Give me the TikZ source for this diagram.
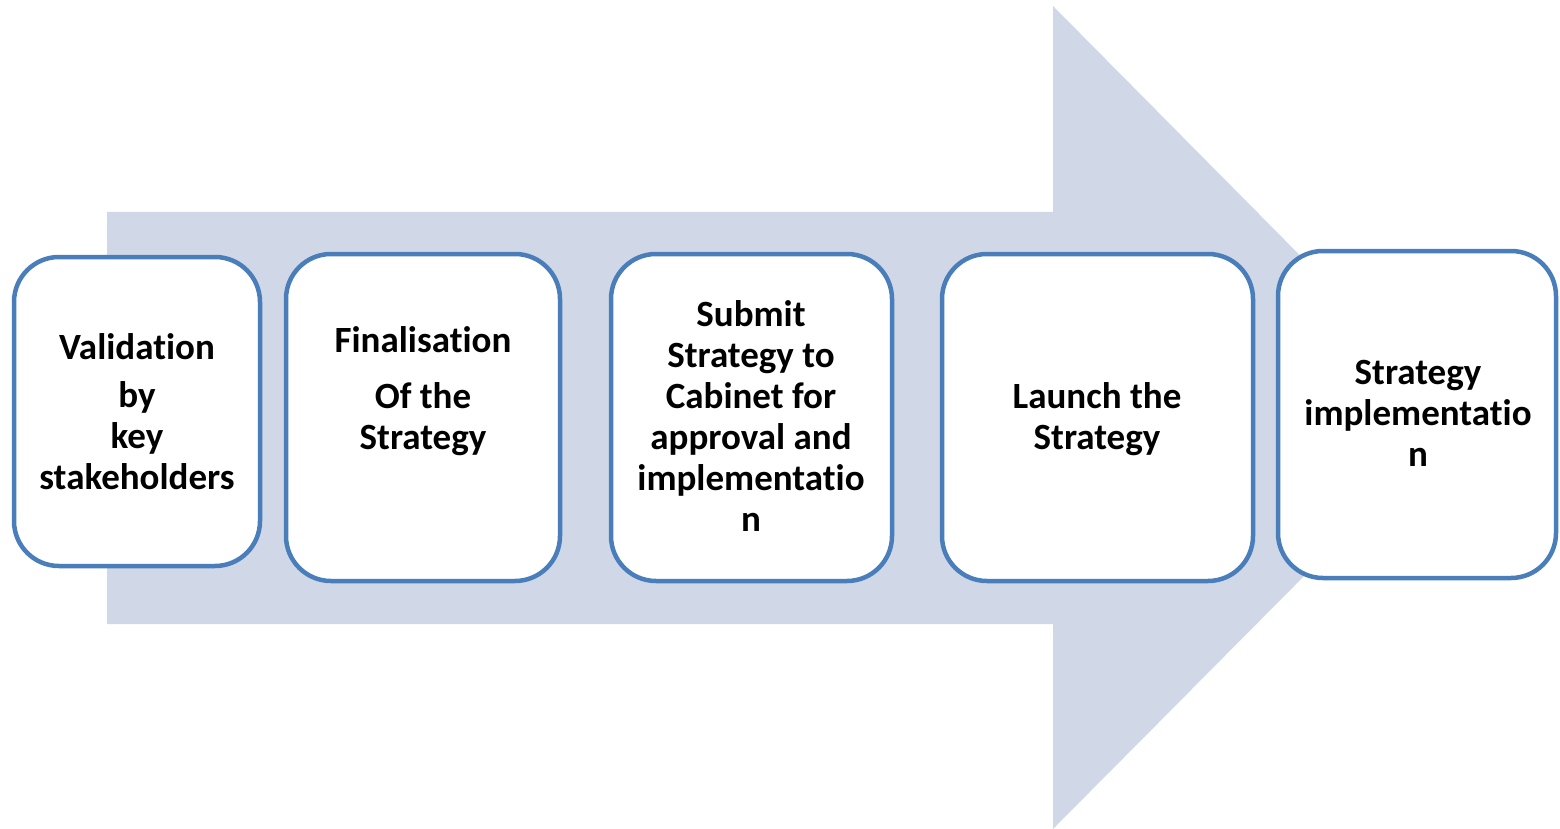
\documentclass[tikz,border=0pt]{standalone}
\usepackage{fontspec}
\setmainfont{Carlito}[Ligatures=NoCommon]
\definecolor{arrowfill}{HTML}{D0D8E8}
\definecolor{boxline}{HTML}{4A7EBB}
\tikzset{
  stepbox/.style={draw=boxline, line width=4.5pt, fill=white, rounded corners=45pt, inner sep=0pt},
  steptext/.style={align=center, font=\fontsize{37}{41}\selectfont\bfseries, text=black, inner sep=0pt}
}
\begin{document}
\begin{tikzpicture}[x=1pt,y=-1pt]
\useasboundingbox (0,0) rectangle (1560,829);
% big arrow
\fill[arrowfill] (107,212) -- (1053,212) -- (1053,6) -- (1461,418) -- (1053,829) -- (1053,624) -- (107,624) -- cycle;
% boxes
\node[stepbox, minimum width=246pt, minimum height=309pt] (b1) at (137,411.5) {};
\node[stepbox, minimum width=274pt, minimum height=327pt] (b2) at (423,417.5) {};
\node[stepbox, minimum width=281pt, minimum height=327pt] (b3) at (751.5,417.5) {};
\node[stepbox, minimum width=311pt, minimum height=327pt] (b4) at (1097.5,417.5) {};
\node[stepbox, minimum width=278pt, minimum height=327pt] (b5) at (1417,414.5) {};
% texts
\node[steptext] (t1) at (137,411.5) {Validation\\[7pt]by\\key\\stakeholders};
\node[steptext] (t2) at (423,391) {Finalisation\\[15pt]Of the\\Strategy};
\node[steptext] (t3) at (751,416.5) {Submit\\Strategy to\\Cabinet for\\approval and\\implementatio\\n};
\node[steptext] (t4) at (1097,419) {Launch the\\Strategy};
\node[steptext] (t5) at (1418,413.5) {Strategy\\implementatio\\n};
\end{tikzpicture}
\end{document}
